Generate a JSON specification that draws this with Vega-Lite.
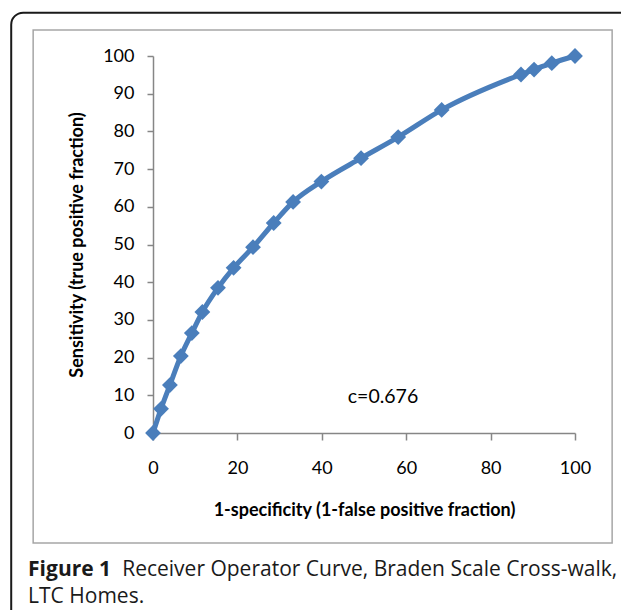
{
  "$schema": "https://vega.github.io/schema/vega-lite/v6.json",
  "width": 422,
  "height": 377,
  "autosize": {"type": "none"},
  "padding": {"left": 153, "top": 56, "right": 46, "bottom": 177},
  "background": "white",
  "config": {"view": {"stroke": null}, "font": "Lato"},
  "resolve": {"axis": {"x": "independent", "y": "independent"}},
  "layer": [
    {
      "data": {
        "values": [
          {"fpf": 0, "tpf": 0},
          {"fpf": 1.9, "tpf": 6.4},
          {"fpf": 4.0, "tpf": 12.7},
          {"fpf": 6.6, "tpf": 20.4},
          {"fpf": 9.2, "tpf": 26.5},
          {"fpf": 11.7, "tpf": 32.1},
          {"fpf": 15.4, "tpf": 38.5},
          {"fpf": 19.1, "tpf": 43.8},
          {"fpf": 23.7, "tpf": 49.3},
          {"fpf": 28.6, "tpf": 55.7},
          {"fpf": 33.2, "tpf": 61.3},
          {"fpf": 39.9, "tpf": 66.7},
          {"fpf": 49.3, "tpf": 72.9},
          {"fpf": 58.1, "tpf": 78.5},
          {"fpf": 68.4, "tpf": 85.7},
          {"fpf": 87.2, "tpf": 95.1},
          {"fpf": 90.3, "tpf": 96.4},
          {"fpf": 94.5, "tpf": 98.1},
          {"fpf": 100, "tpf": 100}
        ]
      },
      "mark": {
        "type": "line",
        "color": "#4a7ebb",
        "strokeWidth": 5,
        "interpolate": "monotone",
        "point": {"shape": "diamond", "size": 250, "filled": true, "color": "#4a7ebb", "opacity": 1}
      },
      "encoding": {
        "x": {
          "field": "fpf",
          "type": "quantitative",
          "scale": {"domain": [0, 100]},
          "axis": {
            "values": [0, 20, 40, 60, 80, 100],
            "title": "1-specificity (1-false positive fraction)",
            "grid": false,
            "tickSize": 7,
            "tickColor": "#868686",
            "domainColor": "#868686",
            "domainWidth": 1.5,
            "tickWidth": 1.5,
            "labelFont": "Lato",
            "labelFontSize": 18,
            "labelColor": "#000000",
            "labelPadding": 19,
            "labelFlush": false,
            "titleFont": "Lato",
            "titleFontSize": 18,
            "titleFontWeight": "bold",
            "titleColor": "#000000",
            "titlePadding": 24
          }
        },
        "y": {
          "field": "tpf",
          "type": "quantitative",
          "scale": {"domain": [0, 100]},
          "axis": {
            "values": [0, 10, 20, 30, 40, 50, 60, 70, 80, 90, 100],
            "title": "Sensitivity (true positive fraction)",
            "grid": false,
            "tickSize": 6,
            "tickColor": "#868686",
            "domainColor": "#868686",
            "domainWidth": 1.5,
            "tickWidth": 1.5,
            "labelFont": "Lato",
            "labelFontSize": 18,
            "labelColor": "#000000",
            "labelPadding": 13,
            "labelFlush": false,
            "titleFont": "Lato",
            "titleFontSize": 18,
            "titleFontWeight": "bold",
            "titleColor": "#000000",
            "titlePadding": 16
          }
        }
      }
    },
    {
      "data": {"values": [{}]},
      "mark": {"type": "rect", "filled": false, "stroke": "#1a1a1a", "strokeWidth": 2, "cornerRadius": 12},
      "encoding": {
        "x": {"datum": -33.6, "type": "quantitative", "scale": {"domain": [0, 100]}, "axis": null},
        "x2": {"datum": 116},
        "y": {"datum": 111.5, "type": "quantitative", "scale": {"domain": [0, 100]}, "axis": null},
        "y2": {"datum": -56}
      }
    },
    {
      "data": {"values": [{}]},
      "mark": {"type": "rect", "filled": false, "stroke": "#a6a6a6", "strokeWidth": 1.5},
      "encoding": {
        "x": {"datum": -28.4, "type": "quantitative", "scale": {"domain": [0, 100]}, "axis": null},
        "x2": {"datum": 108.8},
        "y": {"datum": 106.9, "type": "quantitative", "scale": {"domain": [0, 100]}, "axis": null},
        "y2": {"datum": -29.2}
      }
    },
    {
      "data": {"values": [{"label": "c=0.676"}]},
      "mark": {"type": "text", "fontSize": 19.5, "font": "Lato", "color": "#000000", "align": "center", "baseline": "middle"},
      "encoding": {
        "x": {"datum": 54.5, "type": "quantitative", "scale": {"domain": [0, 100]}, "axis": null},
        "y": {"datum": 9.5, "type": "quantitative", "scale": {"domain": [0, 100]}, "axis": null},
        "text": {"field": "label"}
      }
    },
    {
      "data": {"values": [{"label": "Figure 1"}]},
      "mark": {"type": "text", "fontSize": 21, "font": "Open Sans", "fontWeight": "bold", "color": "#1a1a1a", "align": "left", "baseline": "middle"},
      "encoding": {
        "x": {"datum": -29.6, "type": "quantitative", "scale": {"domain": [0, 100]}, "axis": null},
        "y": {"datum": -36.3, "type": "quantitative", "scale": {"domain": [0, 100]}, "axis": null},
        "text": {"field": "label"}
      }
    },
    {
      "data": {"values": [{"label": "Receiver Operator Curve, Braden Scale Cross-walk,"}]},
      "mark": {"type": "text", "fontSize": 21, "font": "Open Sans", "fontWeight": 500, "color": "#1a1a1a", "align": "left", "baseline": "middle"},
      "encoding": {
        "x": {"datum": -7.3, "type": "quantitative", "scale": {"domain": [0, 100]}, "axis": null},
        "y": {"datum": -36.3, "type": "quantitative", "scale": {"domain": [0, 100]}, "axis": null},
        "text": {"field": "label"}
      }
    },
    {
      "data": {"values": [{"label": "LTC Homes."}]},
      "mark": {"type": "text", "fontSize": 21, "font": "Open Sans", "fontWeight": 500, "color": "#1a1a1a", "align": "left", "baseline": "middle"},
      "encoding": {
        "x": {"datum": -29.6, "type": "quantitative", "scale": {"domain": [0, 100]}, "axis": null},
        "y": {"datum": -43.5, "type": "quantitative", "scale": {"domain": [0, 100]}, "axis": null},
        "text": {"field": "label"}
      }
    }
  ]
}
